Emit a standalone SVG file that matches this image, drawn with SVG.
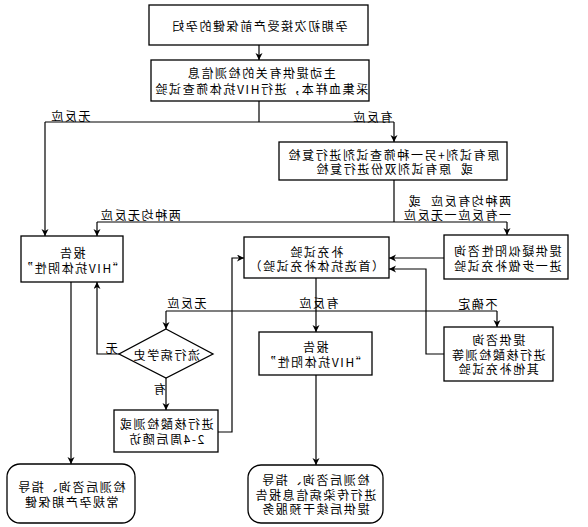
<svg xmlns="http://www.w3.org/2000/svg" width="588" height="527" viewBox="0 0 588 527">
<defs>
<marker id="ah" markerUnits="userSpaceOnUse" markerWidth="8" markerHeight="8" refX="7" refY="3.5" orient="auto">
<path d="M0,0 L7,3.5 L0,7 L2,3.5 z" fill="#000"/>
</marker>
<style>
.b{fill:#fff;stroke:#000;stroke-width:1.3}
.c{fill:none;stroke:#000;stroke-width:1.2}
.a{marker-end:url(#ah)}
text{font-family:"Noto Sans CJK SC","Noto Sans",sans-serif;font-size:12px;letter-spacing:1.6px;fill:#000;dominant-baseline:central;text-anchor:middle}
.s{text-anchor:start}
.p{white-space:pre}
</style>
</defs>
<rect width="588" height="527" fill="#fff"/>
<g id="connectors">
<path class="c a" d="M259,45 V60"/>
<path class="c" d="M259,101 V122 M45,122 H394"/>
<path class="c a" d="M45,122 V236"/>
<path class="c a" d="M394,122 V142"/>
<path class="c" d="M394,180 V222 M97,222 H507"/>
<path class="c a" d="M97,222 V236"/>
<path class="c a" d="M507,222 V235"/>
<path class="c a" d="M444,258 H389"/>
<path class="c a" d="M316,278 V332"/>
<path class="c" d="M166,311 H497"/>
<path class="c a" d="M166,311 V329"/>
<path class="c a" d="M497,311 V327"/>
<path class="c a" d="M119,354 H97 V282"/>
<path class="c a" d="M166,378 V410"/>
<path class="c a" d="M218,432 H232 V258 H244"/>
<path class="c a" d="M444,354 H426 V269 H389"/>
<path class="c a" d="M71,282 V464"/>
<path class="c a" d="M316,375 V465"/>
<text x="70" y="115" transform="matrix(-1 0 0 1 140 0)">无反应</text>
<text x="372" y="116" transform="matrix(-1 0 0 1 744 0)">有反应</text>
<text x="140" y="214" transform="matrix(-1 0 0 1 280 0)">两种均无反应</text>
<text class="s p" x="511" y="200" transform="matrix(-1 0 0 1 1022 0)" xml:space="preserve">两种均有反应  或</text>
<text class="s" x="511" y="214" transform="matrix(-1 0 0 1 1022 0)">一有反应一无反应</text>
<text x="318" y="302" transform="matrix(-1 0 0 1 636 0)">有反应</text>
<text x="186" y="302" transform="matrix(-1 0 0 1 372 0)">无反应</text>
<text x="477" y="303" transform="matrix(-1 0 0 1 954 0)">不确定</text>
<text x="111" y="347" transform="matrix(-1 0 0 1 222 0)">无</text>
<text x="159" y="388" transform="matrix(-1 0 0 1 318 0)">有</text>
</g>
<g id="n1">
<rect class="b" x="149" y="5" width="219" height="40"/>
<text x="259" y="25" transform="matrix(-1 0 0 1 518 0)">孕期初次接受产前保健的孕妇</text>
</g>
<g id="n2">
<rect class="b" x="151" y="60" width="218" height="41"/>
<text x="261" y="72" transform="matrix(-1 0 0 1 522 0)">主动提供有关的检测信息</text>
<text x="261" y="88" transform="matrix(-1 0 0 1 522 0)">采集血样本，进行HIV抗体筛查试验</text>
</g>
<g id="n3">
<rect class="b" x="279" y="142" width="228" height="38"/>
<text x="393" y="154" transform="matrix(-1 0 0 1 786 0)">原有试剂+另一种筛查试剂进行复检</text>
<text class="p" x="394" y="168" transform="matrix(-1 0 0 1 788 0)" xml:space="preserve">或  原有试剂双份进行复检</text>
</g>
<g id="n4">
<rect class="b" x="21" y="236" width="102" height="46"/>
<text x="72" y="252" transform="matrix(-1 0 0 1 144 0)">报告</text>
<text x="72" y="267" transform="matrix(-1 0 0 1 144 0)">“HIV抗体阴性”</text>
</g>
<g id="n5">
<rect class="b" x="444" y="235" width="124" height="44"/>
<text x="507" y="250" transform="matrix(-1 0 0 1 1014 0)">提供疑似阳性咨询</text>
<text x="507" y="265" transform="matrix(-1 0 0 1 1014 0)">进一步做补充试验</text>
</g>
<g id="n6">
<rect class="b" x="244" y="237" width="145" height="41"/>
<text x="316" y="251" transform="matrix(-1 0 0 1 632 0)">补充试验</text>
<text x="316" y="265" transform="matrix(-1 0 0 1 632 0)">（首选抗体补充试验）</text>
</g>
<g id="n7">
<rect class="b" x="259" y="332" width="113" height="43"/>
<text x="315" y="346" transform="matrix(-1 0 0 1 630 0)">报告</text>
<text x="315" y="361" transform="matrix(-1 0 0 1 630 0)">“HIV抗体阳性”</text>
</g>
<g id="n8">
<rect class="b" x="444" y="327" width="109" height="54"/>
<text x="498" y="339" transform="matrix(-1 0 0 1 996 0)">提供咨询</text>
<text x="498" y="354" transform="matrix(-1 0 0 1 996 0)">进行核酸检测等</text>
<text x="498" y="368" transform="matrix(-1 0 0 1 996 0)">其他补充试验</text>
</g>
<g id="n9">
<polygon class="b" points="166,329 213,354 166,378 119,354"/>
<text x="166" y="354" transform="matrix(-1 0 0 1 332 0)">流行病学史</text>
</g>
<g id="n10">
<rect class="b" x="114" y="410" width="104" height="42"/>
<text x="166" y="423" transform="matrix(-1 0 0 1 332 0)">进行核酸检测或</text>
<text x="166" y="438" transform="matrix(-1 0 0 1 332 0)">2-4周后随访</text>
</g>
<g id="n11">
<rect class="b" x="7" y="464" width="128" height="59" rx="13"/>
<text x="71" y="486" transform="matrix(-1 0 0 1 142 0)">检测后咨询、指导</text>
<text x="71" y="501" transform="matrix(-1 0 0 1 142 0)">常规孕产期保健</text>
</g>
<g id="n12">
<rect class="b" x="248" y="465" width="135" height="58" rx="13"/>
<text x="315" y="479" transform="matrix(-1 0 0 1 630 0)">检测后咨询、指导</text>
<text x="315" y="494" transform="matrix(-1 0 0 1 630 0)">进行传染病信息报告</text>
<text x="315" y="508" transform="matrix(-1 0 0 1 630 0)">提供后续干预服务</text>
</g>
</svg>
